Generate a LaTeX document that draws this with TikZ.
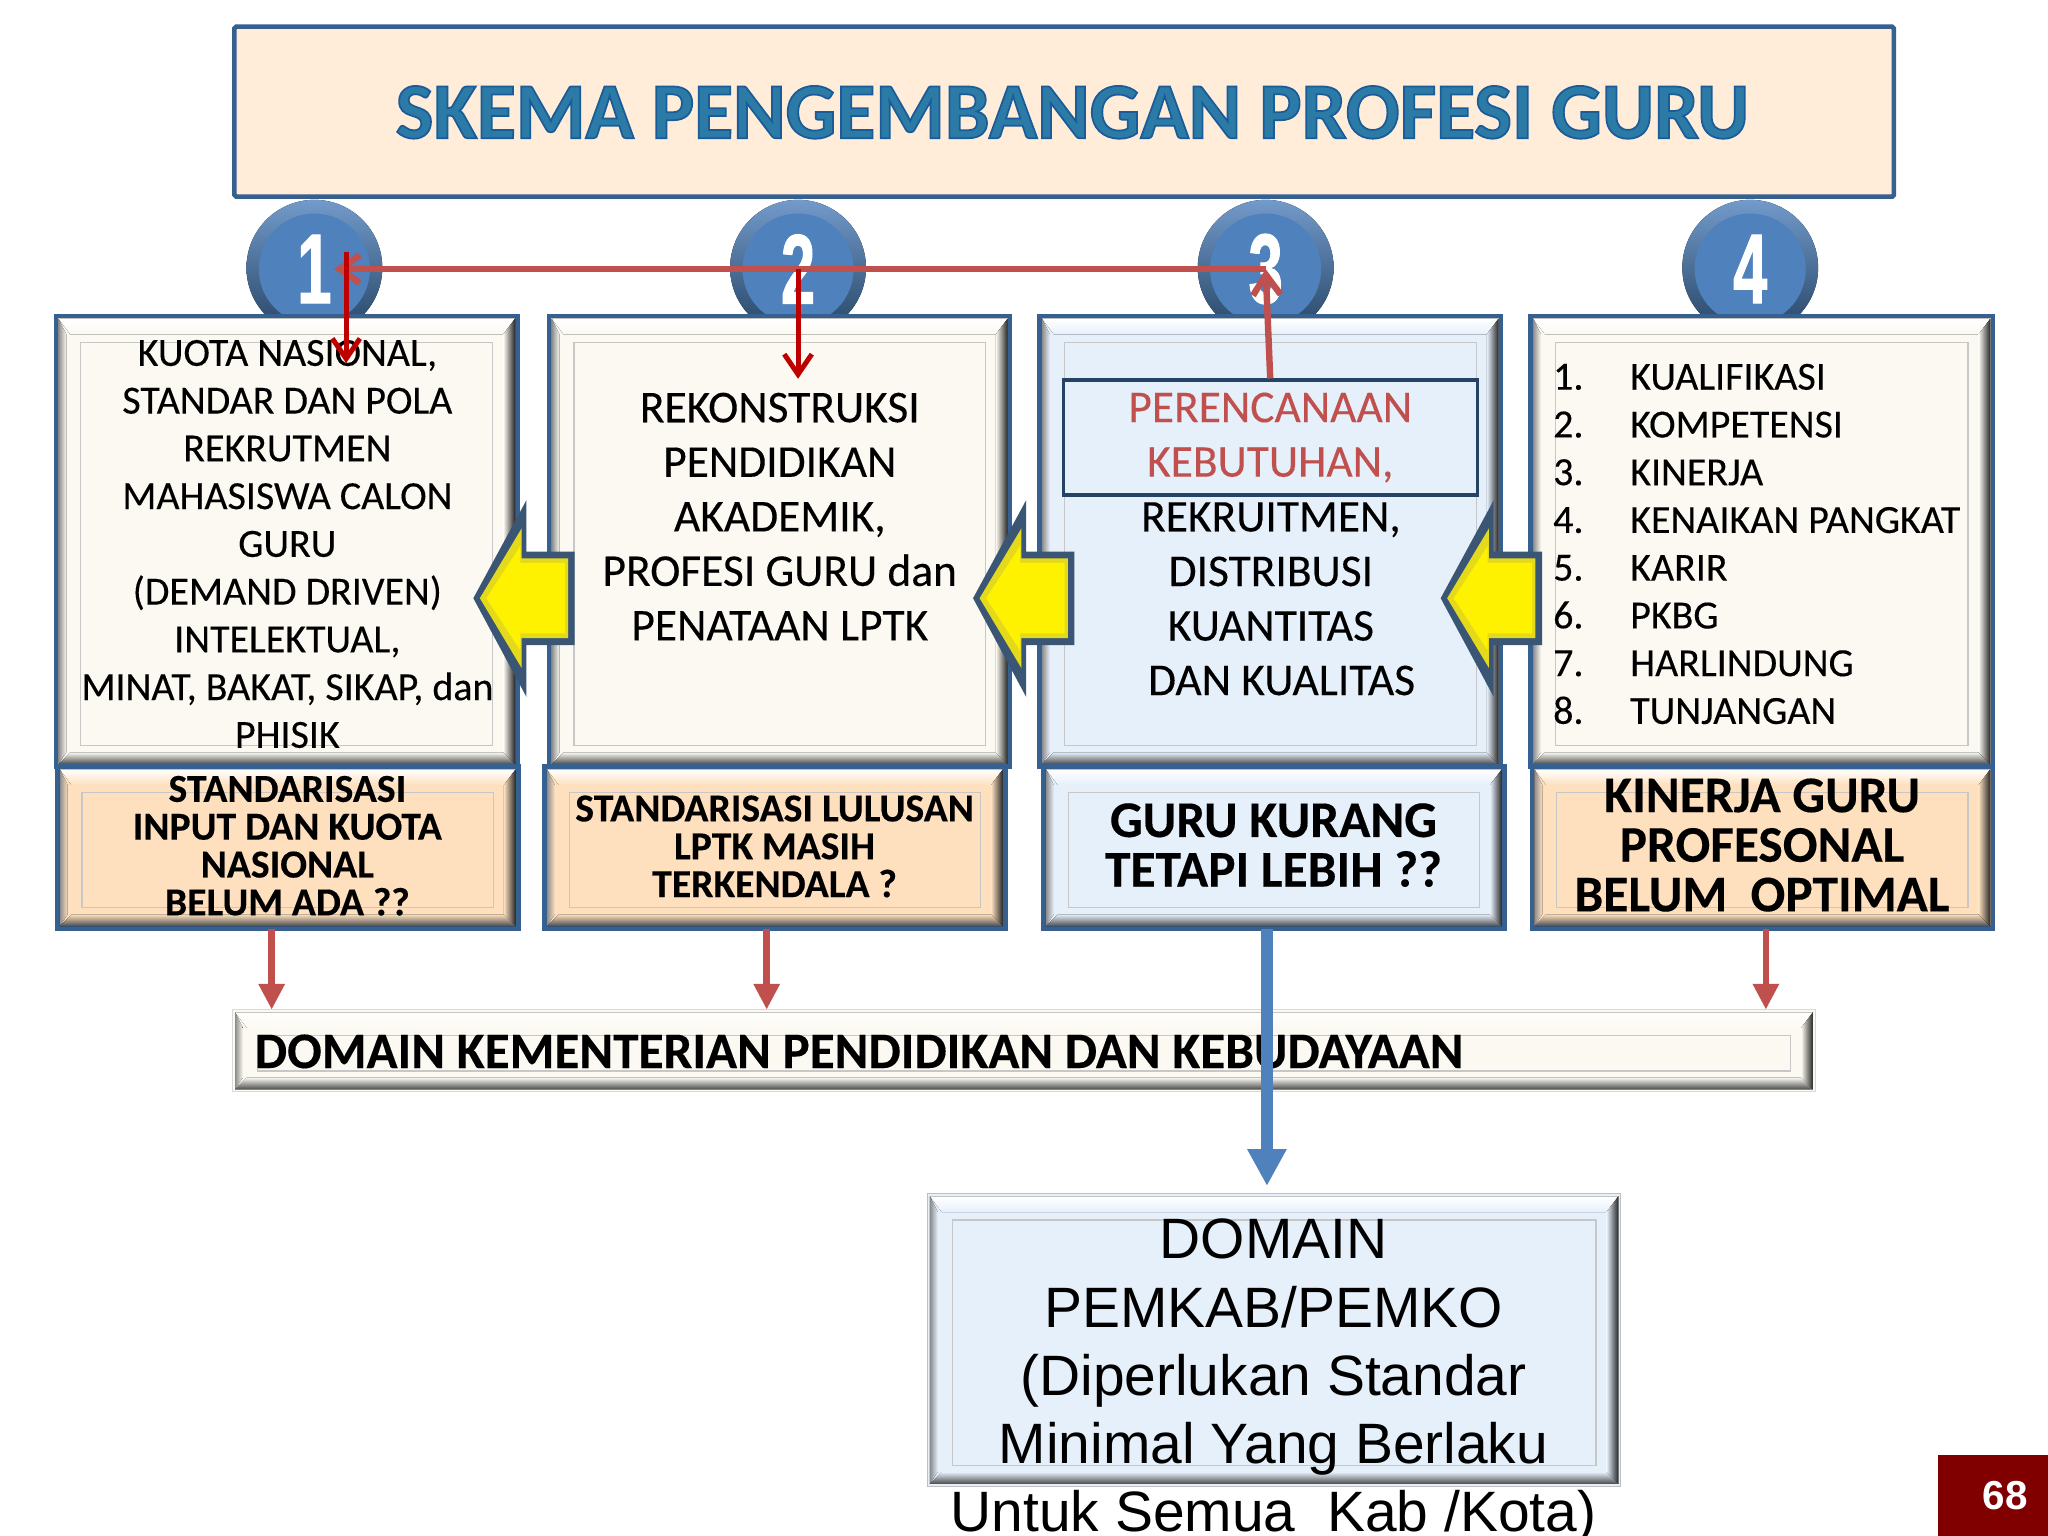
\documentclass[tikz,border=0pt]{standalone}
\usepackage{fontspec}
\usetikzlibrary{arrows.meta,calc,positioning}
\setmainfont{Carlito}[FakeBold=.25,BoldFeatures={FakeBold=.25}]
\newfontfamily\judulf{Carlito Bold}[FakeBold=2.2]
\newfontfamily\arialf{Liberation Sans}
\newfontfamily\nomorf{Liberation Sans}
\newfontfamily\angka{Liberation Sans}[FakeStretch=.62,BoldFeatures={FakeStretch=.62,FakeBold=1}]
\definecolor{tepi}{HTML}{35608F}
\definecolor{krem}{HTML}{FBF9F1}
\definecolor{biru}{HTML}{E6F0FB}
\definecolor{jingga}{HTML}{FEE0BF}
\definecolor{merah}{HTML}{C0504D}
\definecolor{judul}{HTML}{2C7BA6}
\definecolor{cakram}{HTML}{4F81BD}
\definecolor{abu}{HTML}{3B5675}
\tikzset{
  plate/.style={draw=tepi, line width=5pt, minimum width=#1*.5mm, inner sep=0pt, outer sep=0pt, anchor=north west},
  tinggi/.style={minimum height=#1*.5mm},
  bulat/.style={circle, fill=cakram, minimum size=121pt, inner sep=0pt, outer sep=0pt, text=white, font=\angka\bfseries\fontsize{108}{108}\selectfont},
  isi/.style={align=center, inner sep=0pt, font=\fontsize{43.5}{52}\selectfont},
  isib/.style={align=center, inner sep=0pt, font=\bfseries\fontsize{43.2}{41.2}\selectfont},
  isic/.style={align=center, inner sep=0pt, font=\bfseries\fontsize{56}{54}\selectfont},
  isid/.style={align=center, inner sep=0pt, font=\fontsize{49.5}{59.4}\selectfont},
  turun/.style={merah, line width=7pt, -{Triangle[length=28pt,width=27pt]}},
  tipis/.style={red!75!black, line width=5.4pt, -{Straight Barb[length=22pt,width=30pt]}},
  garis/.style={merah, line width=7pt, -{Straight Barb[length=22pt,width=30pt]}},
}
% bevel on a plate: outer bands and thin inner line
\newcommand{\bevel}[2]{
  \coordinate (a) at (#1.north west); \coordinate (b) at (#1.north east);
  \coordinate (c) at (#1.south east); \coordinate (d) at (#1.south west);
  \fill[top color=white, bottom color=#2] ($(a)+(2,2)$)--($(b)+(-2,2)$)--($(b)+(-11,14)$)--($(a)+(11,14)$)--cycle;
  \fill[top color=#2, bottom color=black!70] ($(d)+(2,-2)$)--($(c)+(-2,-2)$)--($(c)+(-11,-11)$)--($(d)+(11,-11)$)--cycle;
  \fill[left color=black!45, right color=#2] ($(a)+(2,2)$)--($(a)+(8,14)$)--($(d)+(8,-11)$)--($(d)+(2,-2)$)--cycle;
  \fill[left color=#2, right color=black!85] ($(b)+(-2,2)$)--($(b)+(-11,14)$)--($(c)+(-11,-11)$)--($(c)+(-2,-2)$)--cycle;
  \draw[black!22, line width=1.4pt] ($(a)+(19,20)$) rectangle ($(c)+(-19,-16)$);
}
\begin{document}
\begin{tikzpicture}[x=.5mm, y=-.5mm, line join=miter]
  \clip (0,0) rectangle (1568,1176);
  \fill[white] (0,0) rectangle (1568,1176);
  % title
  \node[plate=1270.5, tinggi=130.2, fill=orange!15!white, rounded corners=2pt] (kepala) at (179.5,20.4) {};
  \node[text=judul, font=\judulf\fontsize{86.8}{90}\selectfont] (judulteks) at (821,86) {\special{pdf:code .1 .36 .6 RG}SKEMA PENGEMBANGAN PROFESI GURU};
  % numbered discs
  \foreach \n/\x in {1/240.7,2/611,3/969,4/1340}{
    \fill[top color=cakram!80!white, bottom color=tepi!70!black] (\x,205) circle (52);
    \node[bulat] (bulat\n) at (\x,206) {\n};
  }
  % columns
  \foreach \n/\x/\w/\c in {1/42.8/353.5/krem,2/420.4/353/krem,3/795.8/353.5/biru,4/1171.8/354/krem}{
    \node[plate=\w, tinggi=345, fill=\c] (kol\n) at (\x,242) {};
    \bevel{kol\n}{\c}
  }
  \foreach \n/\x/\w/\c in {1/43.8/353/jingga,2/416.8/353/jingga,3/798.8/353/biru,4/1172.8/353/jingga}{
    \node[plate=\w, tinggi=124, fill=\c] (bawah\n) at (\x,587) {};
    \bevel{bawah\n}{\c}
  }
  % domains
  \node[plate=1212, tinggi=63, fill=krem, draw=black!15, line width=1pt] (domain) at (178,773) {};
  \bevel{domain}{krem}
  \node[plate=531, tinggi=224, fill=biru, draw=black!25, line width=1pt] (pemda) at (710,914) {};
  \bevel{pemda}{biru}
  % yellow arrows
  \foreach \x in {362.4,745,1103}{
    \fill[abu] (\x,458)--++(40.6,-75)--++(0,39.4)--++(37,0)--++(0,71.6)--++(-37,0)--++(0,39.5)--cycle;
    \fill[yellow!88!black] (\x+5,458)--++(32,-53.5)--++(0,23)--++(35.5,0)--++(0,61)--++(-35.5,0)--++(0,23)--cycle;
    \fill[yellow] (\x+10,458)--++(26,-40)--++(0,13)--++(34,0)--++(0,54)--++(-34,0)--++(0,13)--cycle;
  }
  % texts
  \node[isi] (teks1) at (220,416.5) {KUOTA NASIONAL,\\STANDAR DAN POLA\\REKRUTMEN\\MAHASISWA CALON\\GURU\\(DEMAND DRIVEN)\\INTELEKTUAL,\\MINAT, BAKAT, SIKAP, dan\\PHISIK};
  \node[isid] (teks2) at (597,395.5) {REKONSTRUKSI\\PENDIDIKAN\\AKADEMIK,\\PROFESI GURU dan\\PENATAAN LPTK};
  \node[draw=tepi!70!black, line width=3.5pt, minimum width=317*.5mm, minimum height=88*.5mm, inner sep=0pt, align=center, text=merah, font=\fontsize{49.5}{59.4}\selectfont] (rencana) at (972.5,335) {PERENCANAAN\\KEBUTUHAN,};
  \node[isid] (teks3) at (973,458.5) {REKRUITMEN,\\DISTRIBUSI\\KUANTITAS\\\hspace*{.47em}DAN KUALITAS};
  \node[isi, align=left, anchor=west] (angka4) at (1189,416.5) {1.\\2.\\3.\\4.\\5.\\6.\\7.\\8.};
  \node[isi, align=left, anchor=west] (teks4) at (1248,416.5) {KUALIFIKASI\\KOMPETENSI\\KINERJA\\KENAIKAN PANGKAT\\KARIR\\PKBG\\HARLINDUNG\\TUNJANGAN};
  \node[isib] (ket1) at (220,647.5) {STANDARISASI\\INPUT DAN KUOTA\\NASIONAL\\BELUM ADA ??};
  \node[isib] (ket2) at (593,648) {STANDARISASI LULUSAN\\LPTK MASIH\\TERKENDALA ?};
  \node[isic] (ket3) at (975,647) {GURU KURANG\\TETAPI LEBIH ??};
  \node[isic] (ket4) at (1349,647) {KINERJA GURU\\PROFESONAL\\BELUM\ \ OPTIMAL};
  \node[anchor=west, inner sep=0pt, font=\bfseries\fontsize{55.8}{54}\selectfont] (domainteks) at (195,805) {DOMAIN KEMENTERIAN PENDIDIKAN DAN KEBUDAYAAN};
  \node[align=center, inner sep=0pt, font=\arialf\fontsize{62}{74.3}\selectfont] (pemdateks) at (975,1057.5) {DOMAIN\\PEMKAB/PEMKO\\(Diperlukan Standar\\Minimal Yang Berlaku\\Untuk Semua\ \ Kab /Kota)};
  \node[anchor=north west, fill=red!50!black, minimum width=84*.5mm, minimum height=62*.5mm, inner sep=0pt, text=white, font=\nomorf\bfseries\fontsize{44}{44}\selectfont] (halaman) at (1484,1114) {\hspace*{25.6pt}68};
  % connectors
  \coordinate (t1) at (208,700); \coordinate (t2) at (587,700); \coordinate (t3) at (970,700); \coordinate (t4) at (1352,700);
  \draw[turun] (t1|-bawah1.south)--(t1|-domain.north);
  \draw[turun] (t2|-bawah2.south)--(t2|-domain.north);
  \draw[turun] (t4|-bawah4.south)--(t4|-domain.north);
  \draw[cakram, line width=12.8pt, -{Triangle[length=40pt,width=40pt]}, shorten >=3mm] (t3|-bawah3.south)--(t3|-pemda.north);
  \coordinate (u1) at (265,193); \coordinate (u2) at (265,278); \coordinate (v2) at (611,290);
  \draw[garis] (bulat3.center)--($(bulat1.center)+(15,0)$);
  \draw[garis] (rencana.north)--(bulat3.center);
  \draw[tipis] (u1)--(u2);
  \draw[tipis] (bulat2.center)--(v2);
\end{tikzpicture}
\end{document}
